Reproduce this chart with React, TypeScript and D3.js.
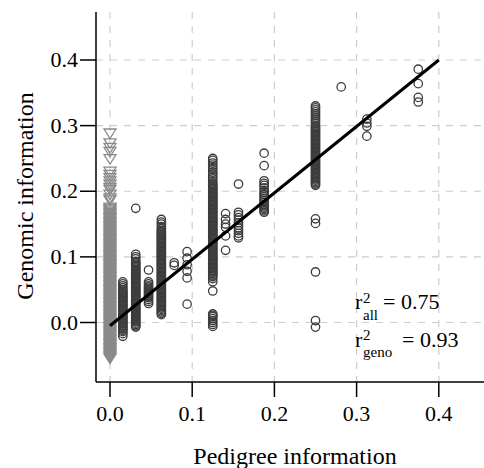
import React from 'react';
import * as d3 from 'd3';

const W = 484;
const H = 468;

// axis ticks
const xTicks = [0, 0.1, 0.2, 0.3, 0.4];
const yTicks = [0, 0.1, 0.2, 0.3, 0.4];
const tickLabels = ['0.0', '0.1', '0.2', '0.3', '0.4'];

// genotyped-only individuals (pedigree = 0), drawn as grey triangles
const triX = 0;
const triY = [
  -0.055, -0.053, -0.051, -0.049, -0.047, -0.045, -0.043, -0.041, -0.039, -0.037,
  -0.035, -0.033, -0.031, -0.029, -0.027, -0.025, -0.023, -0.021, -0.019, -0.017,
  -0.015, -0.013, -0.011, -0.009, -0.007, -0.005, -0.003, -0.001, 0.001, 0.003,
  0.005, 0.007, 0.009, 0.011, 0.013, 0.015, 0.017, 0.019, 0.021, 0.023,
  0.025, 0.027, 0.029, 0.031, 0.033, 0.035, 0.037, 0.039, 0.041, 0.043,
  0.045, 0.047, 0.049, 0.051, 0.053, 0.055, 0.057, 0.059, 0.061, 0.063,
  0.065, 0.067, 0.069, 0.071, 0.073, 0.075, 0.077, 0.079, 0.081, 0.083,
  0.085, 0.087, 0.089, 0.091, 0.093, 0.095, 0.097, 0.099, 0.101, 0.103,
  0.105, 0.107, 0.109, 0.111, 0.113, 0.115, 0.117, 0.119, 0.121, 0.123,
  0.125, 0.127, 0.129, 0.131, 0.133, 0.135, 0.137, 0.139, 0.141, 0.143,
  0.145, 0.147, 0.149, 0.151, 0.153, 0.155, 0.157, 0.159, 0.161, 0.163,
  0.165, 0.167, 0.169, 0.171, 0.173, 0.175,
  0.186, 0.189, 0.195, 0.202, 0.205, 0.21, 0.215, 0.22, 0.225, 0.23,
  0.249, 0.26, 0.266, 0.273, 0.288,
];

// circles: one array per pedigree level
const colAx = 0.0156;
const colAy = [
  -0.021, -0.017, -0.014, -0.012, -0.01, -0.008, -0.006, -0.004, -0.002, 0.0,
  0.002, 0.004, 0.006, 0.008, 0.01, 0.012, 0.014, 0.016, 0.018, 0.02,
  0.022, 0.024, 0.026, 0.028, 0.03, 0.032, 0.034, 0.036, 0.038, 0.04,
  0.042, 0.044, 0.046, 0.048, 0.05, 0.053, 0.056, 0.059, 0.062,
];
const colBx = 0.0313;
const colBy = [
  -0.007, -0.005, -0.003, -0.001, 0.001, 0.003, 0.005, 0.007, 0.009, 0.011,
  0.013, 0.015, 0.017, 0.019, 0.021, 0.023, 0.025, 0.027, 0.029, 0.031,
  0.033, 0.035, 0.037, 0.039, 0.041, 0.043, 0.045, 0.047, 0.049, 0.051,
  0.053, 0.055, 0.057, 0.059, 0.061, 0.063, 0.065, 0.067, 0.069, 0.071,
  0.073, 0.075, 0.077, 0.079, 0.081, 0.083, 0.085, 0.087, 0.089, 0.091,
  0.093, 0.097, 0.1, 0.104, 0.174,
];
const colCx = 0.0469;
const colCy = [
  0.029, 0.032, 0.035, 0.038, 0.04, 0.042, 0.044, 0.046, 0.048, 0.05,
  0.052, 0.054, 0.056, 0.059, 0.062, 0.08,
];
const colDx = 0.0625;
const colDy = [
  0.012, 0.014, 0.016, 0.018, 0.02, 0.022, 0.024, 0.026, 0.028, 0.03,
  0.032, 0.034, 0.036, 0.038, 0.04, 0.042, 0.044, 0.046, 0.048, 0.05,
  0.052, 0.054, 0.056, 0.058, 0.06, 0.062, 0.064, 0.066, 0.068, 0.07,
  0.072, 0.074, 0.076, 0.078, 0.08, 0.082, 0.084, 0.086, 0.088, 0.09,
  0.092, 0.094, 0.096, 0.098, 0.1, 0.102, 0.104, 0.106, 0.108, 0.11,
  0.112, 0.114, 0.116, 0.118, 0.12, 0.122, 0.124, 0.126, 0.128, 0.13,
  0.132, 0.134, 0.136, 0.138, 0.14, 0.143, 0.146, 0.15, 0.153, 0.157,
];
const colEx = 0.0781;
const colEy = [0.087, 0.091];
const colFx = 0.0938;
const colFy = [0.028, 0.068, 0.078, 0.088, 0.098, 0.108];
const colGx = 0.125;
const colGy = [
  -0.006, -0.003, 0.0, 0.003, 0.006, 0.009, 0.011, 0.013, 0.048, 0.062, 0.067,
  0.07, 0.072, 0.074, 0.076, 0.078, 0.08, 0.082, 0.084, 0.086, 0.088,
  0.09, 0.092, 0.094, 0.096, 0.098, 0.1, 0.102, 0.104, 0.106, 0.108,
  0.11, 0.112, 0.114, 0.116, 0.118, 0.12, 0.122, 0.124, 0.126, 0.128,
  0.13, 0.132, 0.134, 0.136, 0.138, 0.14, 0.142, 0.144, 0.146, 0.148,
  0.15, 0.152, 0.154, 0.156, 0.158, 0.16, 0.162, 0.164, 0.166, 0.168,
  0.17, 0.172, 0.174, 0.176, 0.178, 0.18, 0.182, 0.184, 0.186, 0.188,
  0.19, 0.192, 0.194, 0.196, 0.198, 0.2, 0.202, 0.204, 0.206, 0.208,
  0.21, 0.212, 0.215, 0.219, 0.222, 0.226, 0.229, 0.233, 0.236, 0.24,
  0.243, 0.247, 0.25,
];
const colHx = 0.1406;
const colHy = [0.11, 0.132, 0.145, 0.15, 0.157, 0.166];
const colIx = 0.1563;
const colIy = [
  0.129, 0.132, 0.136, 0.14, 0.144, 0.148, 0.152, 0.156, 0.16, 0.164, 0.168, 0.211,
];
const colJx = 0.1875;
const colJy = [
  0.168, 0.17, 0.172, 0.174, 0.176, 0.178, 0.18, 0.183, 0.186, 0.189,
  0.192, 0.195, 0.198, 0.201, 0.205, 0.209, 0.212, 0.216, 0.239, 0.258,
];
const colKx = 0.25;
const colKy = [
  -0.007, 0.003, 0.077, 0.151, 0.158,
  0.209, 0.211, 0.213, 0.215, 0.217, 0.219, 0.221, 0.223, 0.225, 0.227,
  0.229, 0.231, 0.233, 0.235, 0.237, 0.239, 0.241, 0.243, 0.245, 0.247,
  0.249, 0.251, 0.253, 0.255, 0.257, 0.259, 0.261, 0.263, 0.265, 0.267,
  0.269, 0.271, 0.273, 0.275, 0.277, 0.279, 0.281, 0.283, 0.285, 0.287,
  0.289, 0.291, 0.293, 0.295, 0.297, 0.299, 0.303, 0.306, 0.309, 0.312,
  0.315, 0.318, 0.321, 0.324, 0.327, 0.33,
];
const colLx = 0.2813;
const colLy = [0.359];
const colMx = 0.3125;
const colMy = [0.284, 0.299, 0.304, 0.31];
const colNx = 0.375;
const colNy = [0.336, 0.343, 0.364, 0.386];

// regression line
const regX = [0, 0.4];
const regY = [-0.005, 0.4];

// statistics
const rAll = '0.75';
const rGeno = '0.93';

const xTitle = 'Pedigree information';
const yTitle = 'Genomic information';

export default function App() {
  const x = d3.scaleLinear().domain([0, 0.4]).range([110, 438.8]);
  const y = d3.scaleLinear().domain([0, 0.4]).range([322.5, 60]);

  const columns: [number, number[]][] = [
    [colAx, colAy], [colBx, colBy], [colCx, colCy], [colDx, colDy],
    [colEx, colEy], [colFx, colFy], [colGx, colGy], [colHx, colHy],
    [colIx, colIy], [colJx, colJy], [colKx, colKy], [colLx, colLy],
    [colMx, colMy], [colNx, colNy],
  ];
  const circles: { cx: number; cy: number }[] = [];
  columns.forEach(([px, ys]) => ys.forEach((g) => circles.push({ cx: x(px), cy: y(g) })));

  const line = d3.line<number>()
    .x((_, i) => x(regX[i]))
    .y((d) => y(d));

  const axisLeft = 96;
  const axisBottom = 382;
  const axisTop = 12;
  const axisRight = 484;
  const font = "'Liberation Serif', 'Times New Roman', serif";
  const gridColor = '#cdcdcd';

  return (
    <svg
      width={W}
      height={H}
      style={{ position: 'absolute', left: 0, top: 0, background: '#fff' }}
      fontFamily={font}
    >
      <rect x={0} y={0} width={W} height={H} fill="#fff" />
      {/* grid */}
      {xTicks.map((t) => (
        <line key={'gx' + t} x1={x(t)} x2={x(t)} y1={axisTop} y2={axisBottom}
          stroke={gridColor} strokeWidth={1.2} strokeDasharray="7,7" />
      ))}
      {yTicks.map((t) => (
        <line key={'gy' + t} x1={axisLeft} x2={axisRight} y1={y(t)} y2={y(t)}
          stroke={gridColor} strokeWidth={1.2} strokeDasharray="7,7" />
      ))}
      {/* triangles */}
      {triY.map((g, i) => {
        const cx = x(triX);
        const cy = y(g);
        return (
          <path key={'t' + i}
            d={`M${cx - 6},${cy - 4.5}L${cx + 6},${cy - 4.5}L${cx},${cy + 5}Z`}
            fill="none" stroke="#8a8a8a" strokeWidth={1.3} />
        );
      })}
      {/* circles */}
      {circles.map((c, i) => (
        <circle key={'c' + i} cx={c.cx} cy={c.cy} r={4.2}
          fill="none" stroke="#3c3c3c" strokeWidth={1.3} />
      ))}
      {/* regression */}
      <path d={line(regY) || ''} fill="none" stroke="#000" strokeWidth={3} />
      {/* axes */}
      <line x1={axisLeft} x2={axisLeft} y1={axisTop} y2={axisBottom} stroke="#000" strokeWidth={1.5} />
      <line x1={axisLeft} x2={axisRight} y1={axisBottom} y2={axisBottom} stroke="#000" strokeWidth={1.5} />
      {yTicks.map((t, i) => (
        <g key={'yt' + t}>
          <line x1={80} x2={axisLeft} y1={y(t)} y2={y(t)} stroke="#000" strokeWidth={1.5} />
          <text x={78} y={y(t) + 7} textAnchor="end" fontSize={22} fill="#000">{tickLabels[i]}</text>
        </g>
      ))}
      {xTicks.map((t, i) => (
        <g key={'xt' + t}>
          <line x1={x(t)} x2={x(t)} y1={axisBottom} y2={397} stroke="#000" strokeWidth={1.5} />
          <text x={x(t)} y={421} textAnchor="middle" fontSize={22} fill="#000">{tickLabels[i]}</text>
        </g>
      ))}
      {/* titles */}
      <text x={295} y={464} textAnchor="middle" fontSize={24} fill="#000">{xTitle}</text>
      <text transform="translate(33,196) rotate(-90)" textAnchor="middle" fontSize={24} fill="#000">{yTitle}</text>
      {/* r2 annotations */}
      <text x={355} y={309} fontSize={22} fill="#000">
        r
        <tspan x={363} y={303} fontSize={15}>2</tspan>
        <tspan x={363} y={320} fontSize={15}>all</tspan>
        <tspan x={383} y={309}>{'= ' + rAll}</tspan>
      </text>
      <text x={355} y={347} fontSize={22} fill="#000">
        r
        <tspan x={363} y={340} fontSize={15}>2</tspan>
        <tspan x={363} y={357} fontSize={15}>geno</tspan>
        <tspan x={402} y={347}>{'= ' + rGeno}</tspan>
      </text>
    </svg>
  );
}
